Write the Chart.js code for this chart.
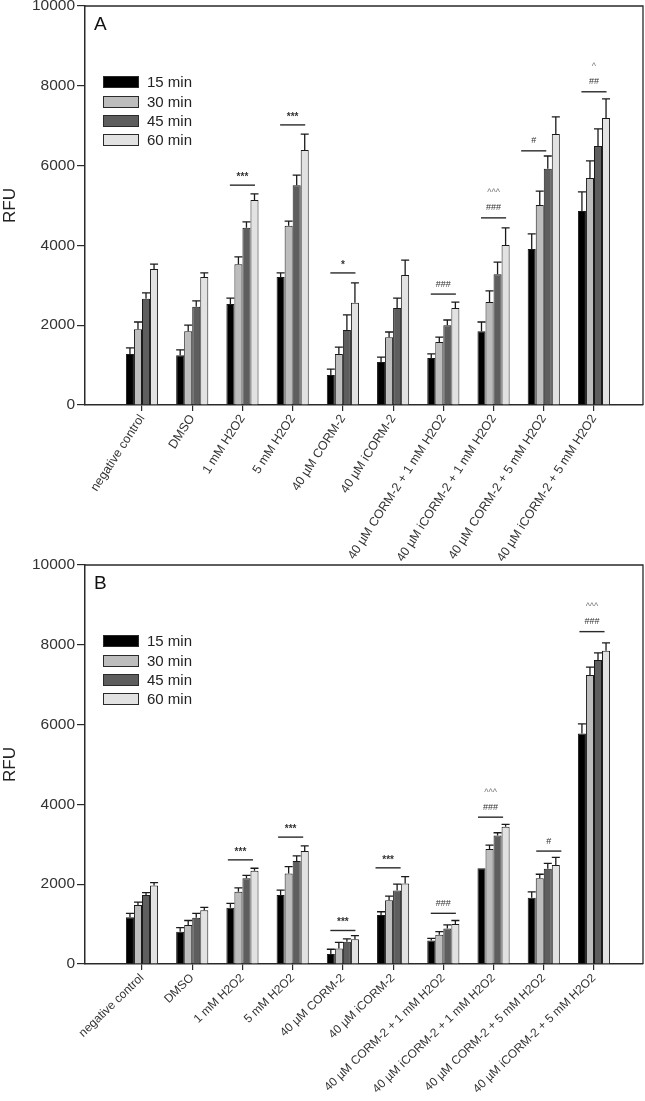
<!DOCTYPE html>
<html>
<head>
<meta charset="utf-8">
<script src="https://cdn.jsdelivr.net/npm/chart.js@4.4.0/dist/chart.umd.min.js"></script>
<style>
  body { margin: 0; background: #fff; width: 645px; height: 1101px; position: relative; overflow: hidden; }
  canvas { position: absolute; left: 0; }
  #chartA { top: 0; }
  #chartB { top: 555px; }
</style>
</head>
<body>
<canvas id="chartA" width="645" height="585"></canvas>
<canvas id="chartB" width="645" height="546"></canvas>
<script>
const categories = [
  'negative control', 'DMSO', '1 mM H2O2', '5 mM H2O2', '40 µM CORM-2', '40 µM iCORM-2',
  '40 µM CORM-2 + 1 mM H2O2', '40 µM iCORM-2 + 1 mM H2O2',
  '40 µM CORM-2 + 5 mM H2O2', '40 µM iCORM-2 + 5 mM H2O2'
];
const seriesLabels = ['15 min', '30 min', '45 min', '60 min'];
const seriesColors = ['#000000', '#bdbdbd', '#5e5e5e', '#e2e2e2'];
const yTicks = [0, 2000, 4000, 6000, 8000, 10000];

// panel A: means and upper error (SE)
const a15 = [1280, 1250, 2530, 3210, 750, 1080, 1180, 1850, 3910, 4860];
const a30 = [1900, 1850, 3530, 4490, 1280, 1700, 1580, 2580, 5010, 5690];
const a45 = [2660, 2460, 4440, 5510, 1880, 2430, 2000, 3280, 5920, 6490];
const a60 = [3410, 3210, 5140, 6390, 2560, 3260, 2430, 4010, 6790, 7190];
const a15err = [150, 130, 150, 100, 150, 120, 100, 230, 380, 480];
const a30err = [180, 150, 180, 120, 170, 130, 120, 280, 350, 430];
const a45err = [150, 150, 150, 250, 380, 250, 130, 300, 320, 430];
const a60err = [120, 100, 150, 400, 500, 370, 150, 430, 430, 480];

// panel A significance marks
const sigAcats = [2, 3, 4, 6, 7, 8, 9];
const sigAlevel = [5510, 7020, 3310, 2780, 4690, 6370, 7850];
const sigAshift = [0, 0, 0, 0, 0, -0.2, 0];
const sigAtext = [['***'], ['***'], ['*'], ['###'], ['###', '^^^'], ['#'], ['##', '^']];

// panel B
const b15 = [1170, 810, 1410, 1730, 250, 1230, 590, 2400, 1660, 5780];
const b30 = [1480, 980, 1810, 2270, 390, 1600, 730, 2880, 2150, 7240];
const b45 = [1730, 1160, 2150, 2580, 560, 1840, 890, 3220, 2390, 7620];
const b60 = [1970, 1350, 2340, 2830, 620, 2020, 1000, 3440, 2480, 7850];
const b15err = [100, 100, 110, 120, 120, 80, 50, 0, 150, 240];
const b30err = [70, 110, 100, 170, 150, 100, 80, 100, 100, 200];
const b45err = [60, 110, 70, 130, 70, 160, 90, 70, 130, 180];
const b60err = [70, 70, 60, 130, 90, 170, 90, 60, 190, 200];

const sigBcats = [2, 3, 4, 5, 6, 7, 8, 9];
const sigBlevel = [2610, 3180, 840, 2410, 1270, 3680, 2830, 8330];
const sigBshift = [-0.04, -0.04, 0, -0.1, 0, -0.06, 0.1, -0.04];
const sigBtext = [['***'], ['***'], ['***'], ['***'], ['###'], ['###', '^^^'], ['#'], ['###', '^^^']];

const FONT = '"Liberation Sans", Arial, sans-serif';
const INK = '#2a2a2a';

function buildChart(canvasId, p) {
  const errorBars = {
    id: 'errorBars',
    afterDatasetsDraw(chart) {
      const ctx = chart.ctx, y = chart.scales.y;
      ctx.save();
      ctx.strokeStyle = '#1a1a1a';
      ctx.lineWidth = 1.3;
      chart.data.datasets.forEach((ds, s) => {
        chart.getDatasetMeta(s).data.forEach((bar, i) => {
          const err = p.errors[s][i];
          if (!err) return;
          const top = y.getPixelForValue(p.values[s][i] + err);
          const half = bar.width / 2;
          ctx.beginPath();
          ctx.moveTo(bar.x, bar.y);
          ctx.lineTo(bar.x, top);
          ctx.moveTo(bar.x - half, top);
          ctx.lineTo(bar.x + half, top);
          ctx.stroke();
        });
      });
      ctx.restore();
    }
  };

  const extras = {
    id: 'extras',
    afterDraw(chart) {
      const ctx = chart.ctx, area = chart.chartArea;
      const x = chart.scales.x, y = chart.scales.y;
      ctx.save();
      // frame top + right
      ctx.strokeStyle = INK;
      ctx.lineWidth = 1.3;
      ctx.beginPath();
      ctx.moveTo(area.left, area.top);
      ctx.lineTo(area.right, area.top);
      ctx.lineTo(area.right, area.bottom);
      ctx.stroke();

      // panel letter
      ctx.fillStyle = '#111';
      ctx.font = '19px ' + FONT;
      ctx.textBaseline = 'top';
      ctx.textAlign = 'left';
      ctx.fillText(p.letter, area.left + 9, area.top + 9);

      // legend
      const rows = [76, 96, 115, 134];
      ctx.font = '15px ' + FONT;
      ctx.textBaseline = 'middle';
      seriesLabels.forEach((lab, s) => {
        const cy = area.top + rows[s];
        ctx.fillStyle = seriesColors[s];
        ctx.fillRect(area.left + 18, cy - 6, 36, 12);
        ctx.strokeStyle = INK;
        ctx.lineWidth = 1;
        ctx.strokeRect(area.left + 18.5, cy - 5.5, 35, 11);
        ctx.fillStyle = '#222';
        ctx.fillText(lab, area.left + 62, cy + 1);
      });

      // significance marks
      p.sigCats.forEach((c, k) => {
        const cx = c + p.sigShift[k];
        const ly = y.getPixelForValue(p.sigLevel[k]);
        ctx.strokeStyle = INK;
        ctx.lineWidth = 1.4;
        ctx.beginPath();
        ctx.moveTo(x.getPixelForValue(cx - 0.25), ly);
        ctx.lineTo(x.getPixelForValue(cx + 0.25), ly);
        ctx.stroke();
        ctx.textAlign = 'center';
        ctx.textBaseline = 'middle';
        p.sigText[k].forEach((t, r) => {
          const isStar = t.indexOf('*') >= 0;
          ctx.fillStyle = t.indexOf('^') >= 0 ? '#777' : '#333';
          ctx.font = (isStar ? 'bold 10px ' : '9px ') + FONT;
          ctx.fillText(t, x.getPixelForValue(cx), ly - 10 - 15 * r + (isStar ? 2 : 0));
        });
      });
      ctx.restore();
    }
  };

  return new Chart(document.getElementById(canvasId), {
    type: 'bar',
    data: {
      datasets: p.values.map((vals, s) => ({
        label: seriesLabels[s],
        data: vals.map((v, i) => ({ x: i, y: v })),
        backgroundColor: seriesColors[s],
        borderColor: '#1a1a1a',
        borderWidth: 1,
        categoryPercentage: 0.64,
        barPercentage: 1.0
      }))
    },
    options: {
      responsive: false,
      animation: false,
      layout: { padding: { top: p.topPad, right: 2, left: 0, bottom: 0 } },
      plugins: { legend: { display: false }, tooltip: { enabled: false } },
      scales: {
        x: {
          type: 'linear',
          min: -1.135,
          max: 9.976,
          offset: false,
          grid: { display: true, offset: false, drawOnChartArea: false, drawTicks: true, tickLength: 6, color: INK, lineWidth: 1.2 },
          border: { display: true, color: INK, width: 1.5 },
          afterBuildTicks(scale) {
            scale.ticks = categories.map((c, i) => ({ value: i }));
          },
          afterFit(scale) {
            scale.height = p.xHeight;
            scale.paddingLeft = 0;
            scale.paddingRight = 0;
          },
          ticks: {
            autoSkip: false,
            minRotation: p.rotation,
            maxRotation: p.rotation,
            padding: 1,
            color: '#333',
            font: { family: FONT, size: p.labelSize },
            callback: (v) => categories[v]
          }
        },
        y: {
          min: 0,
          max: 10000,
          grid: { display: true, drawOnChartArea: false, drawTicks: true, tickLength: 8, color: INK, lineWidth: 1.2 },
          border: { display: true, color: INK, width: 1.5 },
          afterBuildTicks(scale) {
            scale.ticks = yTicks.map(v => ({ value: v }));
          },
          afterFit(scale) {
            scale.width = 85;
            scale.paddingTop = 0;
            scale.paddingBottom = 0;
          },
          title: { display: true, text: 'RFU', color: '#222', font: { family: FONT, size: 17 }, padding: { top: 0, bottom: 0 } },
          ticks: {
            padding: 2,
            color: '#333',
            font: { family: FONT, size: 15.5 },
            callback: (v) => String(v)
          }
        }
      }
    },
    plugins: [errorBars, extras]
  });
}

buildChart('chartA', {
  letter: 'A',
  values: [a15, a30, a45, a60],
  errors: [a15err, a30err, a45err, a60err],
  sigCats: sigAcats, sigLevel: sigAlevel, sigShift: sigAshift, sigText: sigAtext,
  topPad: 6, xHeight: 180, rotation: 57, labelSize: 12.5
});

buildChart('chartB', {
  letter: 'B',
  values: [b15, b30, b45, b60],
  errors: [b15err, b30err, b45err, b60err],
  sigCats: sigBcats, sigLevel: sigBlevel, sigShift: sigBshift, sigText: sigBtext,
  topPad: 10, xHeight: 137, rotation: 44, labelSize: 12
});
</script>
</body>
</html>
